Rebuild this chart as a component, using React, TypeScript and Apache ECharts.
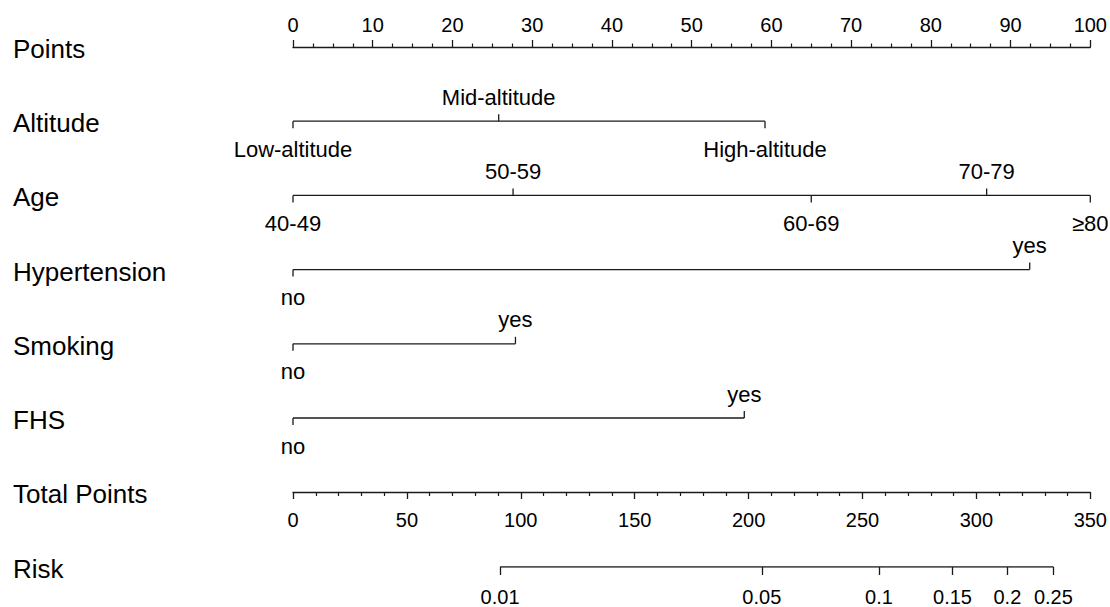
import React, { useEffect, useRef } from "react";
import * as echarts from "echarts";

// ---- data ----
const rowNames = ["Points", "Altitude", "Age", "Hypertension", "Smoking", "FHS"];
const bottomRowNames = ["Total Points", "Risk"];

const altitudeLevels = ["Low-altitude", "Mid-altitude", "High-altitude"];
const altitudePoints = [0, 25.8, 59.2];

const ageLevels = ["40-49", "50-59", "60-69", "70-79", "≥80"];
const agePoints = [0, 27.6, 65.0, 87.0, 100];

const hypertensionLevels = ["no", "yes"];
const hypertensionPoints = [0, 92.4];

const smokingLevels = ["no", "yes"];
const smokingPoints = [0, 27.9];

const fhsLevels = ["no", "yes"];
const fhsPoints = [0, 56.6];

const pointsMax = 100;
const totalPointsMax = 350;

const riskLabels = ["0.01", "0.05", "0.1", "0.15", "0.2", "0.25"];
const riskTotalPoints = [90.9, 205.8, 257.2, 289.5, 313.6, 333.8];

const FONT = "'Liberation Sans', Arial, Helvetica, sans-serif";
const INK = "#1a1a1a";
const TXT = "#000";

export default function App() {
  const ref = useRef<HTMLDivElement>(null);

  useEffect(() => {
    if (!ref.current) return;
    const chart = echarts.init(ref.current, undefined, { renderer: "svg" });

    const factorLevels = [altitudeLevels, ageLevels, hypertensionLevels, smokingLevels, fhsLevels];
    const factorPoints = [altitudePoints, agePoints, hypertensionPoints, smokingPoints, fhsPoints];

    const levelData: number[][] = [];
    const levelNames: string[] = [];
    const spanData: number[][] = [];
    factorLevels.forEach((levels, fi) => {
      const row = fi + 1;
      const pts = factorPoints[fi];
      levels.forEach((name, li) => {
        levelData.push([pts[li], row, li % 2 === 0 ? 1 : -1]);
        levelNames.push(name);
      });
      spanData.push([Math.min(...pts), Math.max(...pts), row]);
    });

    const rowLabel = (names: string[]) => (params: any, api: any) => {
      const p = api.coord([0, api.value(1)]);
      return {
        type: "text",
        x: 13,
        y: p[1] + 2,
        style: {
          text: names[params.dataIndex],
          fill: TXT,
          font: `26px ${FONT}`,
          align: "left",
          verticalAlign: "middle",
        },
      };
    };

    const option: any = {
      animation: false,
      grid: [
        { left: 293, right: 19, top: 47, height: 371 },
        { left: 293, right: 19, top: 492, height: 75 },
      ],
      xAxis: [
        {
          type: "value",
          gridIndex: 0,
          position: "top",
          min: 0,
          max: pointsMax,
          interval: 10,
          axisLine: { show: true, onZero: false, lineStyle: { color: INK, width: 1.3 } },
          axisTick: { show: true, length: 7, lineStyle: { color: INK, width: 1.3 } },
          minorTick: { show: true, splitNumber: 4, length: 3.5, lineStyle: { color: INK, width: 1.2 } },
          axisLabel: { color: TXT, fontSize: 20, fontFamily: FONT, margin: 12 },
          splitLine: { show: false },
        },
        {
          type: "value",
          gridIndex: 1,
          position: "top",
          min: 0,
          max: totalPointsMax,
          interval: 50,
          axisLine: { show: true, onZero: false, lineStyle: { color: INK, width: 1.3 } },
          axisTick: { show: true, inside: true, length: 7, lineStyle: { color: INK, width: 1.3 } },
          minorTick: { show: true, splitNumber: 5, length: 4, lineStyle: { color: INK, width: 1.2 } },
          axisLabel: { inside: true, color: TXT, fontSize: 20, fontFamily: FONT, margin: 18 },
          splitLine: { show: false },
        },
        {
          type: "value",
          gridIndex: 1,
          position: "bottom",
          min: 0,
          max: totalPointsMax,
          axisLine: { show: false, onZero: false },
          axisTick: {
            show: true,
            length: 8,
            customValues: riskTotalPoints,
            lineStyle: { color: INK, width: 1.3 },
          },
          axisLabel: {
            customValues: riskTotalPoints,
            color: TXT,
            fontSize: 20,
            fontFamily: FONT,
            margin: 20,
            formatter: (v: number) => {
              let best = 0;
              riskTotalPoints.forEach((p, i) => {
                if (Math.abs(p - v) < Math.abs(riskTotalPoints[best] - v)) best = i;
              });
              return riskLabels[best];
            },
          },
          splitLine: { show: false },
        },
      ],
      yAxis: [
        { type: "value", gridIndex: 0, min: 0, max: 5, inverse: true, show: false },
        { type: "value", gridIndex: 1, min: 0, max: 1, show: false },
      ],
      series: [
        {
          type: "custom",
          xAxisIndex: 0,
          yAxisIndex: 0,
          data: rowNames.map((_, i) => [0, i]),
          renderItem: rowLabel(rowNames),
        },
        {
          type: "custom",
          xAxisIndex: 1,
          yAxisIndex: 1,
          data: bottomRowNames.map((_, i) => [0, 1 - i]),
          renderItem: rowLabel(bottomRowNames),
        },
        {
          type: "custom",
          xAxisIndex: 0,
          yAxisIndex: 0,
          data: spanData,
          renderItem: (params: any, api: any) => {
            const a = api.coord([api.value(0), api.value(2)]);
            const b = api.coord([api.value(1), api.value(2)]);
            return {
              type: "line",
              shape: { x1: a[0], y1: a[1], x2: b[0], y2: b[1] },
              style: { stroke: INK, lineWidth: 1.3 },
            };
          },
        },
        {
          type: "custom",
          xAxisIndex: 0,
          yAxisIndex: 0,
          data: levelData,
          renderItem: (params: any, api: any) => {
            const p = api.coord([api.value(0), api.value(1)]);
            const dir = api.value(2);
            return {
              type: "group",
              children: [
                {
                  type: "line",
                  shape: { x1: p[0], y1: p[1], x2: p[0], y2: p[1] + dir * 7 },
                  style: { stroke: INK, lineWidth: 1.3 },
                },
                {
                  type: "text",
                  x: p[0],
                  y: p[1] + (dir > 0 ? 28 : -24),
                  style: {
                    text: levelNames[params.dataIndex],
                    fill: TXT,
                    font: `22px ${FONT}`,
                    align: "center",
                    verticalAlign: "middle",
                  },
                },
              ],
            };
          },
        },
        {
          type: "line",
          xAxisIndex: 2,
          yAxisIndex: 1,
          symbol: "none",
          silent: true,
          lineStyle: { color: INK, width: 1.3 },
          data: [
            [riskTotalPoints[0], 0],
            [riskTotalPoints[riskTotalPoints.length - 1], 0],
          ],
        },
      ],
    };

    chart.setOption(option);
    return () => chart.dispose();
  }, []);

  return (
    <div
      ref={ref}
      style={{ position: "absolute", left: 0, top: 0, width: 1110, height: 607, background: "#fff" }}
    />
  );
}
